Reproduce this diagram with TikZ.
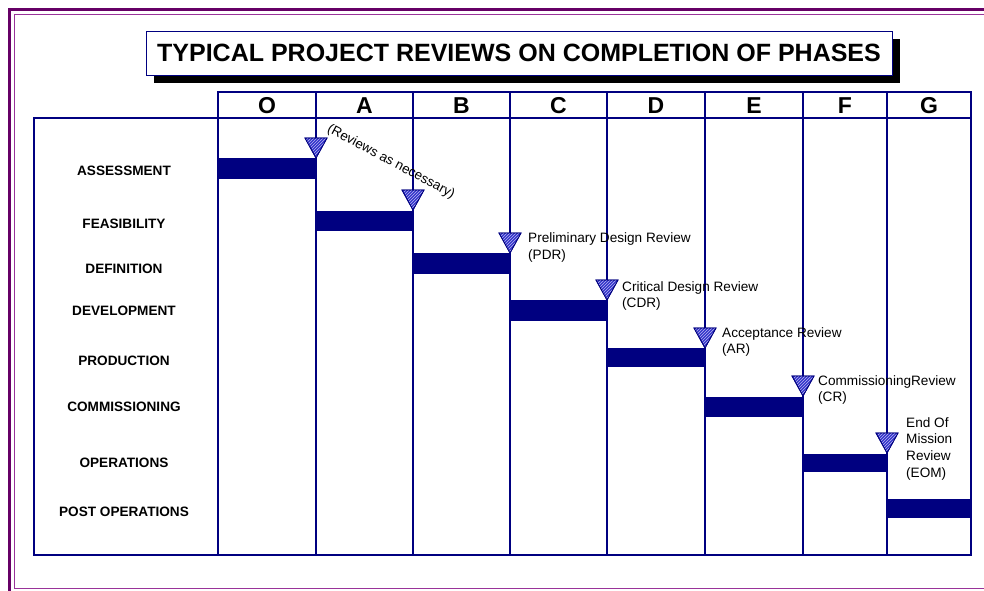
\documentclass[tikz,border=0pt]{standalone}
\usepackage{fontspec}
\setmainfont{Liberation Sans}
\usetikzlibrary{patterns}
\definecolor{gridnavy}{HTML}{000080}
\definecolor{framedark}{HTML}{660066}
\definecolor{framelight}{HTML}{993399}
\definecolor{markblue}{HTML}{3333CC}
\tikzset{
  gridline/.style={draw=gridnavy, line width=1.3pt},
  phasebar/.style={fill=gridnavy},
  rowlabel/.style={font=\bfseries\fontsize{13.6}{16}\selectfont, inner sep=0pt},
  colhead/.style={font=\bfseries\fontsize{23}{26}\selectfont, inner sep=0pt},
  reviewnote/.style={font=\fontsize{13.6}{16.7}\selectfont, align=left, anchor=north west, inner sep=0pt},
  reviewmark/.style={fill=markblue, draw=gridnavy, line width=0.8pt},
  markhatch/.style={pattern=north east lines, pattern color=white!65!markblue},
}
\begin{document}
\begin{tikzpicture}[x=1pt, y=-1pt]
\useasboundingbox (0,0) rectangle (984,590);

% double purple frame
\draw[framedark, line width=2.6pt] (9.3,592) -- (9.3,9.3) -- (986,9.3);
\draw[framelight, line width=1.4pt] (986,588.3) -- (14.2,588.3) -- (14.2,14.2) -- (986,14.2);

% title box with drop shadow
\fill[black] (154,39) rectangle (900,83);
\node[draw=gridnavy, line width=0.8pt, fill=white, minimum width=746pt, minimum height=44pt,
      inner sep=0pt, font=\bfseries\fontsize{25}{28}\selectfont] (title) at (519,53)
      {TYPICAL PROJECT REVIEWS ON COMPLETION OF PHASES};

% phase grid
\def\colx{{218,316,413,510,607,705,803,887,971}}
\draw[gridline] (34,118) rectangle (218,555);
\foreach \i/\name in {0/O,1/A,2/B,3/C,4/D,5/E,6/F,7/G}{
  \pgfmathsetmacro{\xa}{\colx[\i]}
  \pgfmathsetmacro{\xb}{\colx[\i+1]}
  \draw[gridline] (\xa,92) rectangle (\xb,118);
  \draw[gridline] (\xa,118) rectangle (\xb,555);
  \node[colhead] (head\name) at ({(\xa+\xb)/2},105.5) {\name};
}

% row labels
\node[rowlabel] (rAss) at (124,171) {ASSESSMENT};
\node[rowlabel] (rFea) at (124,224) {FEASIBILITY};
\node[rowlabel] (rDef) at (124,269) {DEFINITION};
\node[rowlabel] (rDev) at (124,311) {DEVELOPMENT};
\node[rowlabel] (rPro) at (124,361) {PRODUCTION};
\node[rowlabel] (rCom) at (124,407) {COMMISSIONING};
\node[rowlabel] (rOpe) at (124,463) {OPERATIONS};
\node[rowlabel] (rPos) at (124,512) {POST OPERATIONS};

% phase bars
\fill[phasebar] (218,158) rectangle (316,179);
\fill[phasebar] (316,211) rectangle (413,231);
\fill[phasebar] (413,253) rectangle (510,274);
\fill[phasebar] (510,300) rectangle (607,321);
\fill[phasebar] (607,348) rectangle (705,367);
\fill[phasebar] (705,397) rectangle (803,417);
\fill[phasebar] (803,454) rectangle (887,472);
\fill[phasebar] (887,499) rectangle (971,518);

% review milestones (inverted hatched triangles)
\foreach \tx/\ty in {316/158, 413/210, 510/253, 607/300, 705/348, 803/396, 887/453}{
  \path[reviewmark] (\tx-11,\ty-20) -- (\tx+11,\ty-20) -- (\tx,\ty) -- cycle;
  \path[markhatch] (\tx-11,\ty-20) -- (\tx+11,\ty-20) -- (\tx,\ty) -- cycle;
  \draw[gridnavy, line width=0.8pt] (\tx-11,\ty-20) -- (\tx+11,\ty-20) -- (\tx,\ty) -- cycle;
}

% review notes
\node[font=\fontsize{13.4}{16}\selectfont, rotate=-28, inner sep=0pt] (nAsNec) at (391,162)
     {(Reviews as necessary)};
\node[reviewnote] (nPDR) at (528,232.5) {Preliminary Design Review\\(PDR)};
\node[reviewnote] (nCDR) at (622,281) {Critical Design Review\\(CDR)};
\node[reviewnote] (nAR)  at (722,327) {Acceptance Review\\(AR)};
\node[reviewnote] (nCR)  at (818,375) {CommissioningReview\\(CR)};
\node[reviewnote] (nEOM) at (906,417) {End Of\\Mission\\Review\\(EOM)};
\end{tikzpicture}
\end{document}
